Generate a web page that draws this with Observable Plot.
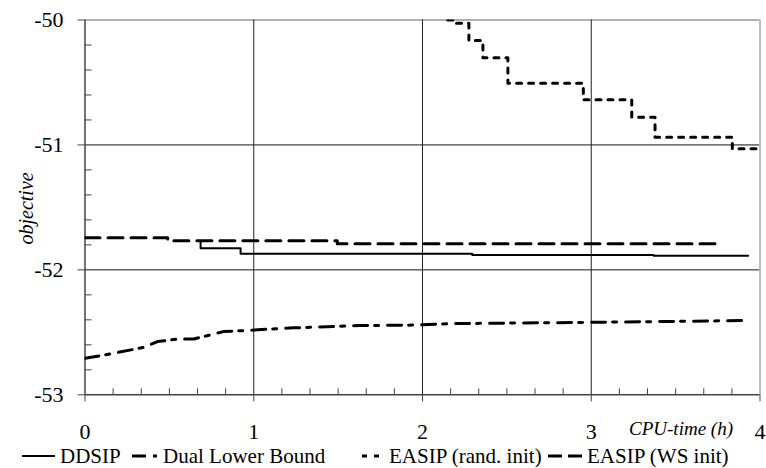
<!DOCTYPE html>
<html>
<head>
<meta charset="utf-8">
<script src="https://cdn.jsdelivr.net/npm/d3@7"></script>
<script src="https://cdn.jsdelivr.net/npm/@observablehq/plot@0.6"></script>
<style>
  html, body { margin: 0; padding: 0; background: #fff; }
  #chart { width: 766px; }
  .legend { position: relative; font-family: "Liberation Serif", Tinos, "Nimbus Roman", "Noto Serif", "DejaVu Serif", "Times New Roman", serif; font-size: 21px; line-height: 22px; height: 22px; color: #000; }
  .legend .item { position: absolute; top: 0; display: flex; align-items: center; height: 22px; white-space: nowrap; }
  .legend svg { display: block; }
</style>
</head>
<body>
<div id="chart"></div>
<script>
// ---- Data ----
const xTicks = [0, 1, 2, 3, 4];
const yTicks = [-53, -52, -51, -50];

const ddsipX = [0.685, 0.685, 0.922, 2.295, 3.37, 3.93];
const ddsipY = [-51.767, -51.827, -51.870, -51.880, -51.887, -51.887];

const dualX = [0, 0.15, 0.35, 0.43, 0.555, 0.645, 0.745, 0.82, 0.94, 1.236, 1.63, 1.91, 2.19, 3.0, 3.9];
const dualY = [-52.708, -52.673, -52.62, -52.574, -52.553, -52.553, -52.52, -52.494, -52.486, -52.464, -52.446, -52.443, -52.43, -52.42, -52.406];

const randX = [2.15, 2.185, 2.275, 2.358, 2.506, 2.953, 3.24, 3.378, 3.836, 4.0];
const randY = [-50.0, -50.026, -50.164, -50.303, -50.506, -50.639, -50.778, -50.938, -51.031, -51.031];

const wsX = [0, 0.49, 1.495, 3.78];
const wsY = [-51.742, -51.767, -51.79, -51.79];

const seriesNames = ["DDSIP", "Dual Lower Bound", "EASIP (rand. init)", "EASIP (WS init)"];

// ---- Build tables ----
const toRows = (xs, ys) => xs.map((x, i) => ({x, y: ys[i]}));
const ddsip = toRows(ddsipX, ddsipY);
const dual = toRows(dualX, dualY);
const rand = toRows(randX, randY);
const ws = toRows(wsX, wsY);

const minorX = d3.range(0, 4.0001, 1/6).filter(v => Math.abs(v - Math.round(v)) > 1e-6);
const minorY = d3.range(-53, -50.0001, 0.2).filter(v => Math.abs(v - Math.round(v)) > 1e-6);

const styles = {
  ddsip: {strokeWidth: 2, dash: null},
  dual: {strokeWidth: 3, dash: "14,7,4,9"},
  rand: {strokeWidth: 3, dash: "5,7"},
  ws: {strokeWidth: 3, dash: "15,8"}
};

const serif = "'Liberation Serif', Tinos, 'Nimbus Roman', 'Noto Serif', 'DejaVu Serif', 'Times New Roman', serif";

const chart = Plot.plot({
  width: 766,
  height: 445,
  marginLeft: 84.5,
  marginRight: 6.5,
  marginTop: 19.5,
  marginBottom: 50.7,
  style: {fontFamily: serif, fontSize: "22px", color: "#000", background: "#fff"},
  x: {domain: [0, 4]},
  y: {domain: [-53, -50]},
  marks: [
    // gridlines
    Plot.ruleY([-52, -51], {stroke: "#111", strokeWidth: 1}),
    Plot.ruleY([-50], {stroke: "#999", strokeWidth: 1.5}),
    Plot.ruleX([1, 2, 3], {stroke: "#222", strokeWidth: 1}),
    Plot.ruleX([4], {stroke: "#aaa", strokeWidth: 1.5}),
    // minor ticks (inward)
    Plot.axisX({ticks: minorX, tickSize: 6, dy: -6, tickFormat: () => "", label: null, stroke: "#444"}),
    Plot.axisY({ticks: minorY, tickSize: 7, dx: 7, tickFormat: () => "", label: null, stroke: "#444"}),
    // major axes
    Plot.axisX({ticks: xTicks, tickSize: 7, tickPadding: 22, tickFormat: d => `${d}`, label: null, fontSize: 22, fontFamily: serif, stroke: "#444"}),
    Plot.axisY({ticks: yTicks, tickSize: 7, tickPadding: 14.5, tickFormat: d => `${d}`, label: null, fontSize: 22, fontFamily: serif, stroke: "#444"}),
    Plot.ruleX([0], {stroke: "#444", strokeWidth: 1.5}),
    Plot.ruleY([-53], {stroke: "#444", strokeWidth: 1.5}),
    // axis titles
    Plot.text(["CPU-time (h)"], {frameAnchor: "bottom-right", dx: -27, dy: 34.5, lineAnchor: "middle", textAnchor: "end", fontStyle: "italic", fontSize: 19, fontFamily: serif}),
    Plot.text(["objective"], {frameAnchor: "left", dx: -58, dy: 1, rotate: -90, textAnchor: "middle", lineAnchor: "middle", fontStyle: "italic", fontSize: 20, fontFamily: serif}),
    // series
    Plot.line(ws, {x: "x", y: "y", curve: "step-after", stroke: "#000", strokeWidth: styles.ws.strokeWidth, strokeDasharray: styles.ws.dash, clip: true}),
    Plot.line(ddsip, {x: "x", y: "y", curve: "step-after", stroke: "#000", strokeWidth: styles.ddsip.strokeWidth, clip: true}),
    Plot.line(dual, {x: "x", y: "y", curve: "linear", stroke: "#000", strokeWidth: styles.dual.strokeWidth, strokeDasharray: styles.dual.dash, clip: true}),
    Plot.line(rand, {x: "x", y: "y", curve: "step-after", stroke: "#000", strokeWidth: styles.rand.strokeWidth, strokeDasharray: styles.rand.dash, clip: true})
  ]
});

document.getElementById("chart").appendChild(chart);

// ---- Legend ----
const legendItems = [
  {name: seriesNames[0], s: styles.ddsip, w: 33, left: 22},
  {name: seriesNames[1], s: styles.dual, w: 26, left: 132},
  {name: seriesNames[2], s: styles.rand, w: 22, left: 362},
  {name: seriesNames[3], s: {strokeWidth: 3, dash: "14,6"}, w: 34, left: 548}
];
const legend = document.createElement("div");
legend.className = "legend";
for (const it of legendItems) {
  const item = document.createElement("div");
  item.className = "item";
  item.style.left = it.left + "px";
  const svg = d3.create("svg").attr("width", it.w).attr("height", 10);
  svg.append("line").attr("x1", 0).attr("x2", it.w).attr("y1", 5).attr("y2", 5)
    .attr("stroke", "#000").attr("stroke-width", it.s.strokeWidth)
    .attr("stroke-dasharray", it.s.dash);
  item.appendChild(svg.node());
  const label = document.createElement("span");
  label.textContent = it.name;
  label.style.marginLeft = "5px";
  item.appendChild(label);
  legend.appendChild(item);
}
document.getElementById("chart").appendChild(legend);
</script>
</body>
</html>
